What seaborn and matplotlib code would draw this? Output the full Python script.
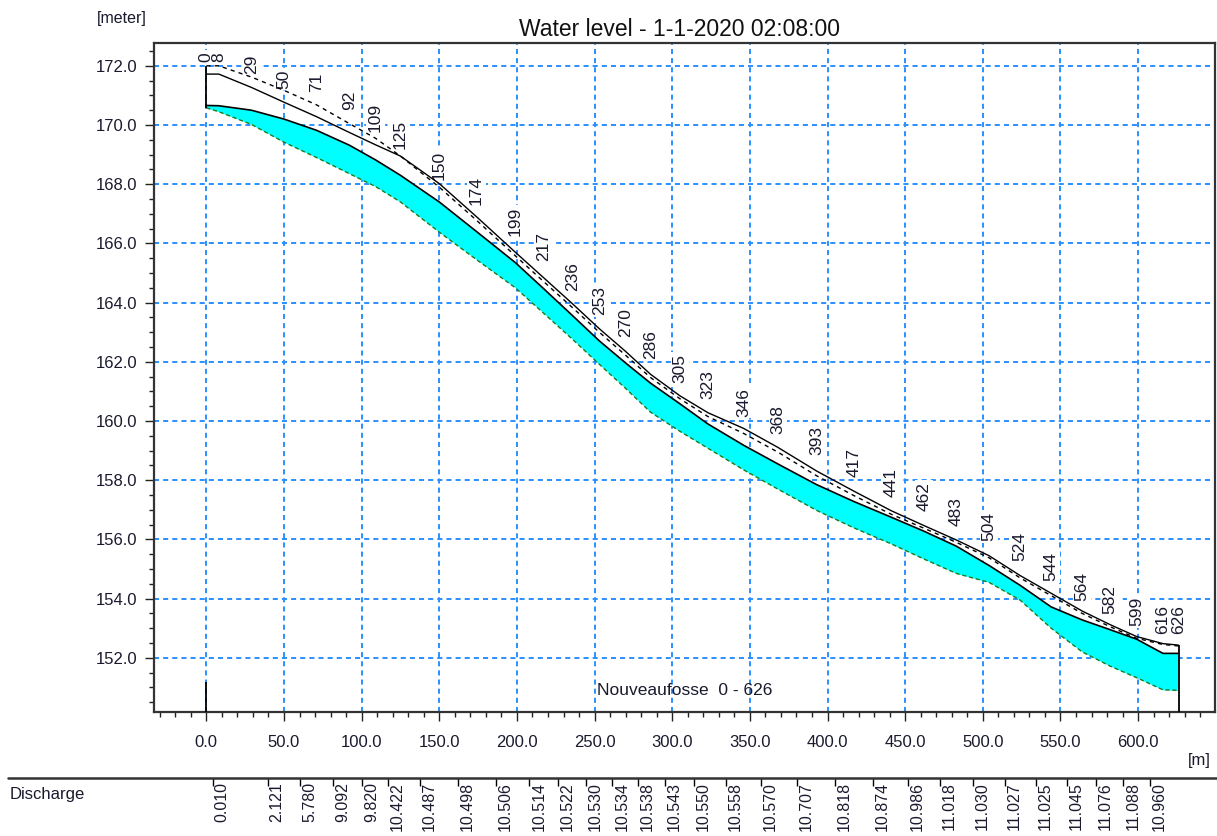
import matplotlib
matplotlib.use("Agg")
import matplotlib.pyplot as plt
import matplotlib.transforms as mtransforms
from matplotlib.lines import Line2D
from matplotlib.ticker import MultipleLocator, FormatStrFormatter
import numpy as np
import pandas as pd
import seaborn as sns

# ---- longitudinal profile data (chainage in m, levels in m) ----
chainage = [0, 8, 29, 50, 71, 92, 109, 125, 150, 174, 199, 217, 236, 253, 270, 286,
            305, 323, 346, 368, 393, 417, 441, 462, 483, 504, 524, 544, 564, 582,
            599, 616, 626]

bed_level = [170.58, 170.45, 170.02, 169.42, 168.90, 168.36, 167.92, 167.40, 166.38,
             165.45, 164.50, 163.65, 162.75, 161.92, 161.10, 160.30, 159.65, 159.08,
             158.35, 157.70, 156.98, 156.39, 155.85, 155.34, 154.85, 154.55, 153.95,
             153.00, 152.20, 151.72, 151.33, 150.92, 150.90]

water_level = [170.66, 170.65, 170.50, 170.20, 169.82, 169.32, 168.82, 168.30, 167.40,
               166.40, 165.35, 164.48, 163.55, 162.71, 161.96, 161.28, 160.58, 159.90,
               159.18, 158.55, 157.85, 157.28, 156.75, 156.28, 155.77, 155.12, 154.45,
               153.72, 153.28, 152.95, 152.63, 152.15, 152.15]

left_bank = [171.72, 171.72, 171.27, 170.77, 170.28, 169.75, 169.33, 168.95, 168.02,
             166.90, 165.70, 164.85, 163.95, 163.12, 162.35, 161.58, 160.85, 160.28,
             159.75, 159.11, 158.31, 157.63, 156.97, 156.47, 155.98, 155.45, 154.78,
             154.18, 153.58, 153.12, 152.72, 152.48, 152.43]

right_bank = [172.00, 172.00, 171.62, 171.17, 170.68, 170.05, 169.55, 168.95, 167.90,
              166.78, 165.58, 164.72, 163.82, 163.00, 162.22, 161.47, 160.75, 160.15,
              159.58, 158.95, 158.15, 157.48, 156.85, 156.38, 155.90, 155.38, 154.70,
              154.10, 153.50, 153.05, 152.66, 152.45, 152.40]

# top of each cross-section (where the chainage label sits)
section_top = [172.09, 172.09, 171.69, 171.18, 171.08, 170.47, 169.73, 169.15, 168.10,
               167.26, 166.21, 165.37, 164.35, 163.52, 162.80, 162.06, 161.25, 160.70,
               160.10, 159.52, 158.80, 158.07, 157.40, 156.91, 156.42, 155.90, 155.23,
               154.55, 153.88, 153.44, 153.03, 152.76, 152.76]

# upstream boundary stub level
boundary_stub_top = 151.2

# discharge at the Q-points (m3/s)
q_chainage = [4, 39.5, 60.5, 81.5, 100.5, 117, 137.5, 162, 186.5, 208, 226.5, 244.5,
              261.5, 278, 295.5, 314, 334.5, 357, 380.5, 405, 429, 451.5, 472.5, 493.5,
              514, 534, 554, 573, 590.5, 607.5]
discharge = [0.010, 2.121, 5.780, 9.092, 9.820, 10.422, 10.487, 10.498, 10.506, 10.514,
             10.522, 10.530, 10.534, 10.538, 10.543, 10.550, 10.558, 10.570, 10.707,
             10.818, 10.874, 10.986, 11.018, 11.030, 11.027, 11.025, 11.045, 11.076,
             11.088, 10.960]

title = "Water level - 1-1-2020 02:08:00"
branch_name = "Nouveaufosse  0 - 626"

profile = pd.DataFrame({
    "chainage": chainage,
    "bed": bed_level,
    "water": water_level,
    "left_bank": left_bank,
    "right_bank": right_bank,
    "top": section_top,
})

# ---- styling ----
sns.set_style("ticks")
plt.rcParams["font.family"] = ["Liberation Sans", "DejaVu Sans"]
plt.rcParams["font.size"] = 12
TEXT = "#1a1a2e"

W, H = 1217, 836
fig = plt.figure(figsize=(W / 100, H / 100), dpi=100)
fig.patch.set_facecolor("white")

ax_l, ax_r, ax_t, ax_b = 154, 1215, 43, 712
ax = fig.add_axes([ax_l / W, 1 - ax_b / H, (ax_r - ax_l) / W, (ax_b - ax_t) / H])
ax.set_facecolor("white")
ax.set_xlim(-33.7, 649.5)
ax.set_ylim(150.17, 172.77)

# grid
ax.xaxis.set_major_locator(MultipleLocator(50))
ax.xaxis.set_minor_locator(MultipleLocator(10))
ax.yaxis.set_major_locator(MultipleLocator(2))
ax.yaxis.set_minor_locator(MultipleLocator(0.5))
ax.xaxis.set_major_formatter(FormatStrFormatter("%.1f"))
ax.yaxis.set_major_formatter(FormatStrFormatter("%.1f"))
ax.grid(True, which="major", color="#2b8fff", linestyle=(0, (2.6, 2.1)), linewidth=1.4,
        zorder=1)
ax.set_axisbelow(True)

for s in ax.spines.values():
    s.set_color("#333333")
    s.set_linewidth(1.6)

ax.tick_params(axis="both", which="major", direction="out", length=6.5, width=1.0,
               colors="#222222", labelcolor=TEXT, labelsize=12)
ax.tick_params(axis="both", which="minor", direction="out", length=3.6, width=1.0,
               colors="#222222")
ax.tick_params(axis="x", which="major", pad=10)
ax.tick_params(axis="y", which="major", pad=5.5)

# water body between bed and water level
ax.fill_between(profile["chainage"], profile["bed"], profile["water"],
                color="#00ffff", linewidth=0, zorder=3)

# bed level
sns.lineplot(data=profile, x="chainage", y="bed", ax=ax, color="#1f7a1f",
             linewidth=1.0, linestyle=(0, (3, 2)), estimator=None, zorder=4)
# banks
sns.lineplot(data=profile, x="chainage", y="left_bank", ax=ax, color="black",
             linewidth=1.0, estimator=None, zorder=4)
sns.lineplot(data=profile, x="chainage", y="right_bank", ax=ax, color="black",
             linewidth=1.0, linestyle=(0, (3, 3)), estimator=None, zorder=4)
# water level
sns.lineplot(data=profile, x="chainage", y="water", ax=ax, color="black",
             linewidth=1.2, estimator=None, zorder=5)

# boundary verticals
ax.vlines(chainage[0], bed_level[0], max(left_bank[0], right_bank[0]),
          color="black", linewidth=1.3, zorder=5)
ax.vlines(chainage[0], ax.get_ylim()[0], boundary_stub_top, color="black",
          linewidth=1.3, zorder=5)
ax.vlines(chainage[-1], ax.get_ylim()[0], left_bank[-1], color="black",
          linewidth=1.3, zorder=5)

# chainage labels on top of each cross-section
lift = mtransforms.offset_copy(ax.transData, fig=fig, x=0, y=1.0, units="points")
for i, (c, top) in enumerate(zip(chainage, section_top)):
    ax.text(c, top, f"{c}", rotation=90, ha="center", va="bottom", fontsize=12.5,
            color=TEXT, transform=lift, clip_on=True, zorder=2.5 + i * 0.001,
            bbox=dict(boxstyle="square,pad=0.1", fc="white", ec="none"))

ax.text(0.5, 0.032, branch_name, transform=ax.transAxes, ha="center", va="center",
        fontsize=12.5, color=TEXT, zorder=6)

ax.set_xlabel("")
ax.set_ylabel("")
ax.set_title(title, fontsize=16.5, color="#111111", pad=5, x=0.495)

fig.text(97 / W, 1 - 19 / H, "[meter]", ha="left", va="center", fontsize=11.5, color=TEXT)
fig.text(1211 / W, 1 - 761 / H, "[m]", ha="right", va="center", fontsize=12, color=TEXT)

# ---- discharge table under the chart ----
tab_top = 778
tax = fig.add_axes([ax_l / W, 0, (ax_r - ax_l) / W, (H - tab_top) / H])
tax.set_xlim(ax.get_xlim())
tax.set_ylim(0, H - tab_top)
tax.axis("off")
fig.add_artist(Line2D([8 / W, 1.0], [1 - tab_top / H] * 2, transform=fig.transFigure,
                      color="#333333", linewidth=1.8))
fig.text(10 / W, 1 - 795 / H, "Discharge", ha="left", va="center", fontsize=12, color=TEXT)

tax.vlines(q_chainage, H - tab_top - 8, H - tab_top, color="black", linewidth=1.0)
shift = mtransforms.offset_copy(tax.transData, fig=fig, x=6.8, y=-3.0, units="points")
for q, v in zip(q_chainage, discharge):
    tax.text(q, H - tab_top, f"{v:.3f}", rotation=90, ha="center", va="top",
             fontsize=11.5, color=TEXT, transform=shift, clip_on=False)

fig.savefig("out.png", dpi=100, facecolor="white")
